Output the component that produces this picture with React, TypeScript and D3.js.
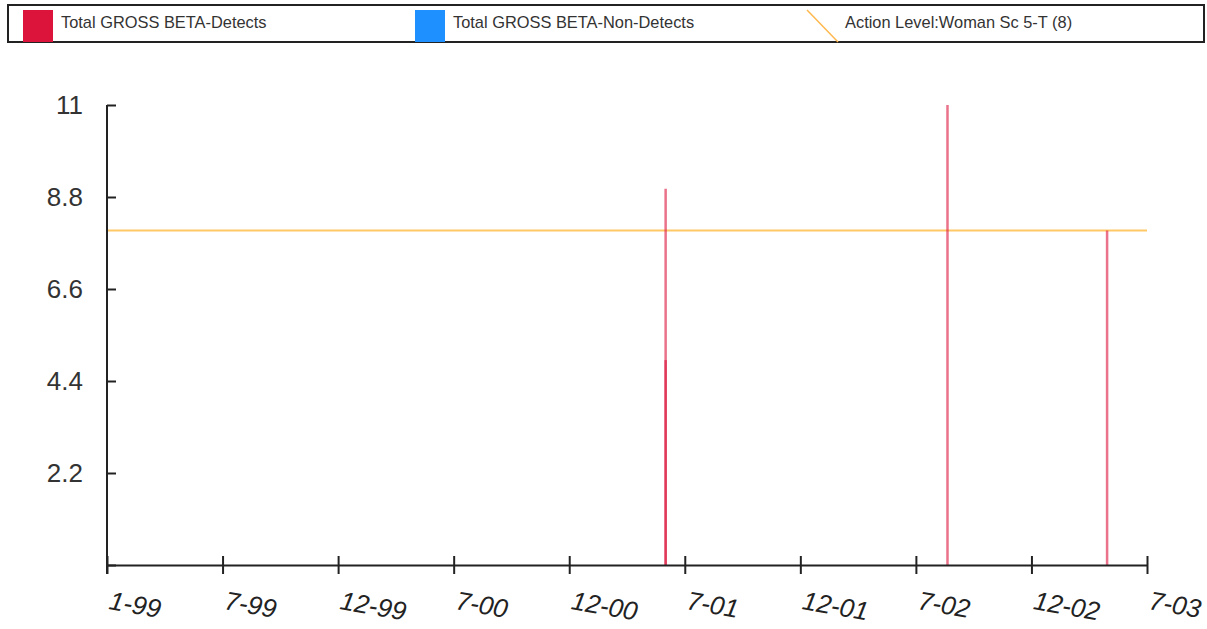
import * as d3 from "d3";
import React from "react";

// legend entries
const legendLabels = [
  "Total GROSS BETA-Detects",
  "Total GROSS BETA-Non-Detects",
  "Action Level:Woman Sc 5-T (8)",
];
const legendColors = ["#DC143C", "#1E90FF", "#FFB84D"];

// sample results (detects)
const detectDates = ["2001-06-01", "2001-06-01", "2002-08-20", "2003-04-29"];
const detectValues = [9, 4.9, 11, 8];
// no non-detects in this chart
const nonDetectDates: string[] = [];
const nonDetectValues: number[] = [];

const actionLevel = 8;

const xDomain = ["1999-01-01", "2003-07-01"];
const xTickLabels = ["1-99", "7-99", "12-99", "7-00", "12-00", "7-01", "12-01", "7-02", "12-02", "7-03"];
const yTicks = [0, 2.2, 4.4, 6.6, 8.8, 11];

const W = 1207;
const H = 629;
const FONT = "Arial, 'Liberation Sans', sans-serif";

const App = () => {
  const ref = React.useRef<SVGSVGElement>(null);

  React.useEffect(() => {
    const svg = d3.select(ref.current);
    svg.selectAll("*").remove();

    const parse = d3.timeParse("%Y-%m-%d");
    const margin = { top: 105, right: 60, bottom: 64, left: 107 };

    const x = d3
      .scaleTime()
      .domain(xDomain.map((d) => parse(d) as Date))
      .range([margin.left, W - margin.right]);
    const y = d3
      .scaleLinear()
      .domain([0, 11])
      .range([H - margin.bottom, margin.top]);

    // legend box
    const legend = svg.append("g");
    legend
      .append("rect")
      .attr("x", 8)
      .attr("y", 5)
      .attr("width", 1196)
      .attr("height", 37)
      .attr("fill", "white")
      .attr("stroke", "#222")
      .attr("stroke-width", 2);
    const legendX = [23, 415, 807];
    legendLabels.forEach((label, i) => {
      if (i < 2) {
        legend
          .append("rect")
          .attr("x", legendX[i])
          .attr("y", 10)
          .attr("width", 30)
          .attr("height", 32)
          .attr("fill", legendColors[i]);
      } else {
        legend
          .append("line")
          .attr("x1", legendX[i])
          .attr("y1", 10)
          .attr("x2", legendX[i] + 31)
          .attr("y2", 42)
          .attr("stroke", legendColors[i])
          .attr("stroke-width", 1.5);
      }
      legend
        .append("text")
        .attr("x", legendX[i] + 38)
        .attr("y", 28)
        .attr("font-family", FONT)
        .attr("font-size", "16.4px")
        .attr("fill", "#333")
        .text(label);
    });

    // action level line
    svg
      .append("line")
      .attr("x1", x.range()[0])
      .attr("x2", x.range()[1])
      .attr("y1", y(actionLevel))
      .attr("y2", y(actionLevel))
      .attr("stroke", "orange")
      .attr("stroke-opacity", 0.6)
      .attr("stroke-width", 2);

    // detects
    const detects = detectDates.map((d, i) => ({ date: parse(d) as Date, value: detectValues[i] }));
    svg
      .append("g")
      .selectAll("line")
      .data(detects)
      .enter()
      .append("line")
      .attr("x1", (d) => x(d.date))
      .attr("x2", (d) => x(d.date))
      .attr("y1", y(0))
      .attr("y2", (d) => y(d.value))
      .attr("stroke", legendColors[0])
      .attr("stroke-opacity", 0.6)
      .attr("stroke-width", 2.5);

    const nonDetects = nonDetectDates.map((d, i) => ({ date: parse(d) as Date, value: nonDetectValues[i] }));
    svg
      .append("g")
      .selectAll("line")
      .data(nonDetects)
      .enter()
      .append("line")
      .attr("x1", (d) => x(d.date))
      .attr("x2", (d) => x(d.date))
      .attr("y1", y(0))
      .attr("y2", (d) => y(d.value))
      .attr("stroke", legendColors[1])
      .attr("stroke-opacity", 0.6)
      .attr("stroke-width", 2.5);

    // x ticks: equal splits of the time range
    const [t0, t1] = x.domain().map((d) => d.getTime());
    const xTicks = xTickLabels.map((_, i) => new Date(t0 + ((t1 - t0) * i) / (xTickLabels.length - 1)));

    const axisColor = "#222";
    const xAxis = d3
      .axisBottom(x)
      .tickValues(xTicks)
      .tickSize(9)
      .tickSizeOuter(0)
      .tickFormat(() => "");
    const gx = svg
      .append("g")
      .attr("transform", "translate(0," + y(0) + ")")
      .call(xAxis);
    gx.selectAll("path, line").attr("stroke", axisColor).attr("stroke-width", 2);
    gx.selectAll(".tick line").attr("y1", -9);

    svg
      .append("g")
      .selectAll("text")
      .data(xTicks)
      .enter()
      .append("text")
      .attr("transform", (d) => "translate(" + (x(d) + 1) + "," + 609 + ") rotate(10)")
      .attr("font-family", FONT)
      .attr("font-size", "26px")
      .attr("font-style", "italic")
      .attr("fill", "#222")
      .text((d, i) => xTickLabels[i]);

    const yAxis = d3
      .axisLeft(y)
      .tickValues(yTicks)
      .tickSize(9)
      .tickSizeOuter(0)
      .tickFormat((d) => (d === 0 ? "" : String(d)));
    const gy = svg
      .append("g")
      .attr("transform", "translate(" + x.range()[0] + ",0)")
      .call(yAxis);
    gy.selectAll("path, line").attr("stroke", axisColor).attr("stroke-width", 2);
    gy.selectAll(".tick line").attr("x2", 9);
    gy.select(".domain").attr("d", "M0," + y(11) + "V" + (y(0) + 9));
    gy.selectAll(".tick text")
      .attr("font-family", FONT)
      .attr("font-size", "26px")
      .attr("fill", "#333")
      .attr("x", -24);
  }, []);

  return (
    <svg
      ref={ref}
      width={W}
      height={H}
      style={{ position: "absolute", left: 0, top: 0, background: "white" }}
    ></svg>
  );
};

export default App;
